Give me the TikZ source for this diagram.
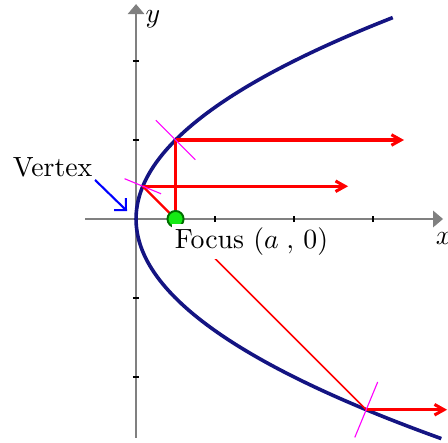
\documentclass[tikz,border=0pt]{standalone}
\usetikzlibrary{arrows.meta}
\definecolor{navyc}{RGB}{20,20,130}
\definecolor{axisc}{RGB}{128,128,128}
\definecolor{dotfill}{RGB}{20,235,20}
\definecolor{dotline}{RGB}{0,110,0}
\definecolor{redc}{RGB}{255,0,0}
\definecolor{magc}{RGB}{255,0,255}
\definecolor{bluec}{RGB}{0,0,255}
\begin{document}
\begin{tikzpicture}[x=1cm,y=1cm,
  axis/.style={draw=axisc, line width=0.4pt, -{Triangle[length=3.6pt,width=6pt,fill=axisc]}},
  tickmark/.style={draw=black, line width=0.6pt},
  parab/.style={draw=navyc, line width=1.3pt},
  ray/.style={draw=redc, line width=1.1pt, -{Straight Barb[length=3.4pt,width=3.8pt]}},
  redthick/.style={draw=redc, line width=0.8pt},
  redthin/.style={draw=redc, line width=0.55pt},
  normalline/.style={draw=magc, line width=0.4pt},
  lbl/.style={font=\fontsize{10}{12}\selectfont, inner sep=0pt},
  vtxarrow/.style={draw=bluec, line width=0.75pt, -{Straight Barb[length=3pt,width=6pt]}}
]
\useasboundingbox (-1.722,-2.823) rectangle (3.949,2.772);
% axes
\coordinate (xl) at (-0.646,0);
\coordinate (xr) at (3.886,0);
\coordinate (yb) at (0,-2.77);
\coordinate (yt) at (0,2.72);
\draw[axis] (xl) -- (xr);
\draw[axis] (yb) -- (yt);
\foreach \t in {1,2,3}{\draw[tickmark] (\t,-0.04) -- (\t,0.04);}
\foreach \t in {-2,-1,1,2}{\draw[tickmark] (-0.04,\t) -- (0.04,\t);}
\node[font=\fontsize{10}{12}\selectfont] (ylab) at (0.215,2.532) {$y$};
\node[font=\fontsize{10}{12}\selectfont, inner sep=0pt] (xlab) at (3.895,-0.241) {$x$};
% parabola
\draw[parab] plot[domain=-2.78:2.55, samples=120, smooth] ({\x*\x/2},\x);
% points
\coordinate (F) at (0.5,0);
\coordinate (P1) at (0.0858,0.4142);
\coordinate (P2) at (2.9142,-2.4142);
\coordinate (P3) at (0.5,1);
\coordinate (R1) at (2.684,0.4142);
\coordinate (R2) at (3.937,-2.4142);
\coordinate (R3) at (3.392,1);
% red lines
\draw[redthin] (F) -- (P2);
\draw[redthick] (P1) -- (F);
\draw[redthick] (F) -- (P3);
\draw[ray] (P3) -- (R3);
\draw[ray] (P1) -- (R1);
\draw[ray] (P2) -- (R2);
% normals
\coordinate (N3a) at (0.25,1.25);
\coordinate (N3b) at (0.75,0.75);
\coordinate (N1a) at (-0.145,0.510);
\coordinate (N1b) at (0.317,0.319);
\coordinate (N2a) at (3.059,-2.063);
\coordinate (N2b) at (2.769,-2.765);
\draw[normalline] (N3a) -- (N3b);
\draw[normalline] (N1a) -- (N1b);
\draw[normalline] (N2a) -- (N2b);
% focus dot
\node[circle, fill=dotfill, draw=dotline, line width=0.7pt, minimum size=5.8pt, inner sep=0pt] (fdot) at (F) {};
% labels
\node[lbl, fill=white, inner sep=1.2pt, anchor=base] (flab) at (1.462,-0.371) {Focus $(a\;,\,0)$};
\node[lbl, anchor=base] (vtx) at (-1.057,0.532) {Vertex};
\coordinate (VA) at (-0.519,0.494);
\coordinate (VB) at (-0.114,0.101);
\draw[vtxarrow] (VA) -- (VB);
\end{tikzpicture}
\end{document}
